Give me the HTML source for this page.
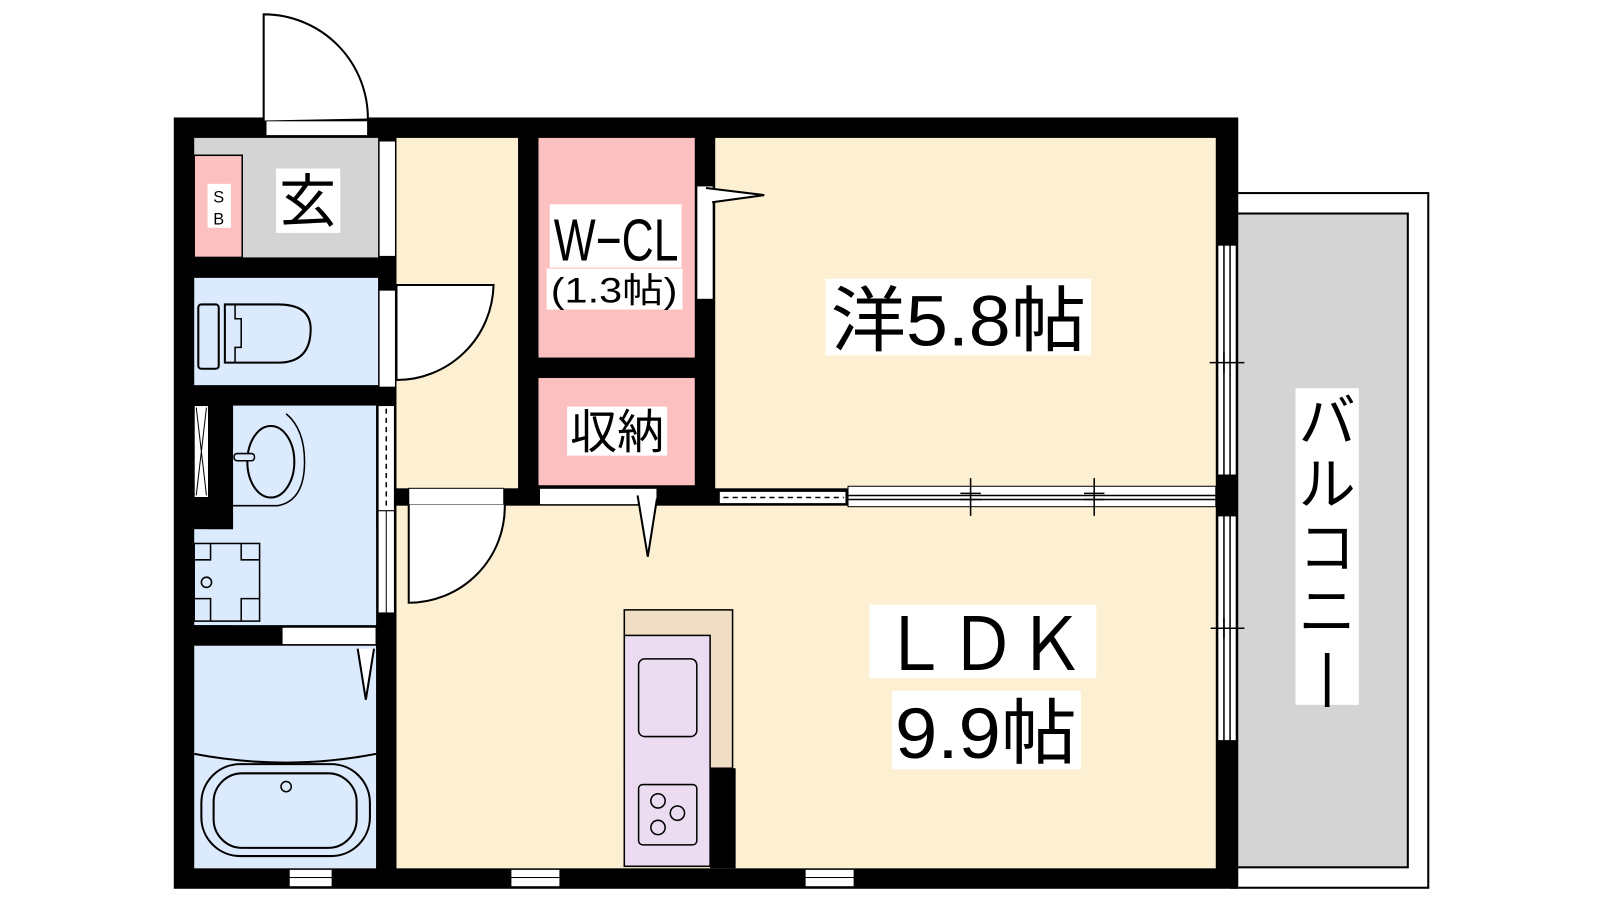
<!DOCTYPE html>
<html><head><meta charset="utf-8"><style>
body{margin:0;background:#fff;width:1600px;height:900px;overflow:hidden}
text{font-family:"Liberation Sans","Noto Sans CJK JP",sans-serif;fill:#000}
</style></head><body>
<svg width="1600" height="900" viewBox="0 0 1566 881" xmlns="http://www.w3.org/2000/svg">
<rect x="1205" y="189" width="193" height="680" fill="#fff" stroke="#000" stroke-width="2"/>
<rect x="1205" y="209" width="173" height="640" fill="#d4d4d4" stroke="#000" stroke-width="2"/>
<rect x="170" y="115" width="1042" height="755" fill="#000"/>
<rect x="190" y="135" width="180" height="117" fill="#d4d4d4"/>
<rect x="190" y="152" width="47" height="100" fill="#fcc0c0" stroke="#000" stroke-width="1.5"/>
<rect x="190" y="272" width="180" height="105" fill="#dbeafd"/>
<rect x="228" y="397" width="140" height="215" fill="#dbeafd"/>
<rect x="190" y="518" width="178" height="94" fill="#dbeafd"/>
<rect x="190" y="397" width="14" height="90" fill="#fff" stroke="#000" stroke-width="1"/>
<path d="M192 399 L202 485 M202 399 L192 485" stroke="#000" stroke-width="1"/>
<rect x="190" y="632" width="178" height="218" fill="#dbeafd"/>
<rect x="388" y="135" width="119" height="343" fill="#fdf0d2"/>
<rect x="527" y="135" width="153" height="215" fill="#fcc0c0"/>
<rect x="527" y="370" width="153" height="105" fill="#fcc0c0"/>
<rect x="700" y="135" width="490" height="343" fill="#fdf0d2"/>
<rect x="388" y="495" width="802" height="355" fill="#fdf0d2"/>
<rect x="260" y="118" width="100" height="15" fill="#fff" stroke="#000" stroke-width="1.5"/>
<path d="M258 118 L258 14 A102 102 0 0 1 360 116" fill="#fff" stroke="#000" stroke-width="2"/>
<rect x="371" y="138" width="16" height="113" fill="#fff" stroke="#000" stroke-width="1"/>
<rect x="371" y="284" width="16" height="95" fill="#fff" stroke="#000" stroke-width="1"/>
<path d="M388 279 L483 279 A95 95 0 0 1 388 372 Z" fill="#fff" stroke="#000" stroke-width="2"/>
<rect x="194" y="298" width="20" height="63" rx="3" fill="#dbeafd" stroke="#000" stroke-width="2"/>
<path d="M220 298 L272 298 Q304 298 304 322 Q304 355 272 355 L220 355 Z" fill="#dbeafd" stroke="#000" stroke-width="2"/>
<path d="M230 298 V312 H236 V340 H230 V355" fill="none" stroke="#000" stroke-width="1.5"/>
<path d="M280 405 Q298 420 298 452 Q298 490 272 495 L228 495" fill="none" stroke="#000" stroke-width="1.5"/>
<ellipse cx="265" cy="452" rx="23" ry="35" fill="#dbeafd" stroke="#000" stroke-width="2"/>
<rect x="229" y="444" width="20" height="7" rx="3" fill="#dbeafd" stroke="#000" stroke-width="1.5"/>
<rect x="204" y="397" width="24" height="121" fill="#000"/>
<rect x="190" y="532" width="64" height="76" fill="none" stroke="#000" stroke-width="1.5"/>
<path d="M206 532 V548 H190 M236 532 V548 H254 M206 608 V586 H190 M236 608 V586 H254" fill="none" stroke="#000" stroke-width="1.5"/>
<circle cx="202" cy="570" r="5" fill="none" stroke="#000" stroke-width="1.5"/>
<rect x="190" y="612" width="178" height="20" fill="#000"/>
<rect x="276" y="614" width="92" height="17" fill="#fff" stroke="#000" stroke-width="1"/>
<path d="M350 635 L358 685 L366 635" fill="#fff" stroke="#000" stroke-width="2"/>
<rect x="370" y="397" width="16" height="103" fill="#fff" stroke="#000" stroke-width="1"/>
<line x1="378" y1="400" x2="378" y2="498" stroke="#000" stroke-width="1.5" stroke-dasharray="5,4"/>
<rect x="370" y="500" width="16" height="100" fill="#fff" stroke="#000" stroke-width="1"/>
<line x1="378" y1="500" x2="378" y2="600" stroke="#000" stroke-width="1"/>
<path d="M190 738 Q280 755 368 738" fill="none" stroke="#000" stroke-width="2"/>
<rect x="197" y="748" width="165" height="90" rx="38" fill="none" stroke="#000" stroke-width="2"/>
<rect x="209" y="757" width="140" height="73" rx="28" fill="none" stroke="#000" stroke-width="2"/>
<circle cx="280" cy="770" r="5" fill="none" stroke="#000" stroke-width="1.5"/>
<rect x="400" y="478" width="93" height="16" fill="#fff" stroke="#000" stroke-width="1"/>
<path d="M400 494 L400 590 A94 94 0 0 0 494 494" fill="#fff" stroke="#000" stroke-width="2"/>
<rect x="528" y="478" width="115" height="16" fill="#fff" stroke="#000" stroke-width="1"/>
<path d="M624 485 L634 545 L643 488" fill="#fff" stroke="#000" stroke-width="2"/>
<rect x="704" y="481" width="124" height="12" fill="#fff" stroke="#000" stroke-width="1"/>
<line x1="708" y1="487" x2="826" y2="487" stroke="#000" stroke-width="1.5" stroke-dasharray="5,4"/>
<rect x="830" y="476" width="360" height="20" fill="#fff" stroke="#000" stroke-width="1"/>
<line x1="830" y1="485" x2="1190" y2="485" stroke="#000" stroke-width="1.5"/>
<line x1="830" y1="489" x2="1190" y2="489" stroke="#000" stroke-width="1.5"/>
<path d="M950 468 V505 M940 483 H960 M940 489 H960 M1071 468 V505 M1061 483 H1081 M1061 489 H1081" stroke="#000" stroke-width="1.5"/>
<rect x="682" y="182" width="16" height="111" fill="#fff" stroke="#000" stroke-width="1"/>
<path d="M691 184 L748 191 L697 198" fill="#fff" stroke="#000" stroke-width="2"/>
<rect x="1192" y="240" width="18" height="225" fill="#fff" stroke="#000" stroke-width="1"/>
<rect x="1192" y="505" width="18" height="220" fill="#fff" stroke="#000" stroke-width="1"/>
<path d="M1198 240 V465 M1204 240 V465 M1198 505 V725 M1204 505 V725" stroke="#000" stroke-width="1.5"/>
<path d="M1184 355 H1218 M1185 615 H1218 M1198 345 V365 M1198 605 V625" stroke="#000" stroke-width="1.5"/>
<g fill="#fff" stroke="#000" stroke-width="1">
<rect x="283" y="851" width="42" height="8"/><rect x="283" y="859" width="42" height="9"/>
<rect x="500" y="851" width="48" height="8"/><rect x="500" y="859" width="48" height="9"/>
<rect x="788" y="851" width="48" height="8"/><rect x="788" y="859" width="48" height="9"/>
</g>
<rect x="611" y="597" width="106" height="155" fill="#efdec4" stroke="#000" stroke-width="1.5"/>
<rect x="611" y="622" width="84" height="226" fill="#ecdcf2" stroke="#000" stroke-width="1.5"/>
<rect x="695" y="752" width="25" height="98" fill="#000"/>
<rect x="625" y="645" width="57" height="76" rx="6" fill="none" stroke="#000" stroke-width="1.5"/>
<rect x="625" y="768" width="57" height="59" rx="4" fill="none" stroke="#000" stroke-width="1.5"/>
<circle cx="644" cy="784" r="7" fill="none" stroke="#000" stroke-width="1.5"/>
<circle cx="663" cy="796" r="7" fill="none" stroke="#000" stroke-width="1.5"/>
<circle cx="644" cy="810" r="7" fill="none" stroke="#000" stroke-width="1.5"/>
<rect x="203" y="180" width="23" height="43" fill="#fff"/>
<text x="214" y="198" font-size="16" text-anchor="middle">S</text>
<text x="214" y="220" font-size="16" text-anchor="middle">B</text>
<rect x="270" y="165" width="63" height="63" fill="#fff"/>
<text x="301" y="217" font-size="56" text-anchor="middle">玄</text>
<rect x="538" y="200" width="129" height="62" fill="#fff"/>
<text x="603" y="255" font-size="58" text-anchor="middle" textLength="122" lengthAdjust="spacingAndGlyphs">W−CL</text>
<rect x="535" y="263" width="133" height="40" fill="#fff"/>
<text x="601" y="296" font-size="34" text-anchor="middle" textLength="124" lengthAdjust="spacingAndGlyphs">(1.3帖)</text>
<rect x="555" y="398" width="98" height="48" fill="#fff"/>
<text x="604" y="439" font-size="46" text-anchor="middle">収納</text>
<rect x="808" y="273" width="260" height="75" fill="#fff"/>
<text x="938" y="338" font-size="70" text-anchor="middle" textLength="250" lengthAdjust="spacingAndGlyphs">洋5.8帖</text>
<rect x="851" y="592" width="222" height="72" fill="#fff"/>
<text x="962" y="656" font-size="72" text-anchor="middle" textLength="200" lengthAdjust="spacingAndGlyphs">ＬＤＫ</text>
<rect x="873" y="676" width="185" height="77" fill="#fff"/>
<text x="965" y="742" font-size="70" text-anchor="middle" textLength="178" lengthAdjust="spacingAndGlyphs">9.9帖</text>
<rect x="1268" y="380" width="62" height="310" fill="#fff"/>
<g font-size="56" text-anchor="middle">
<text x="1299" y="432">バ</text><text x="1299" y="494">ル</text><text x="1299" y="556">コ</text><text x="1299" y="618">ニ</text><text x="1299" y="680">|</text>
</g>
</svg>
</body></html>
